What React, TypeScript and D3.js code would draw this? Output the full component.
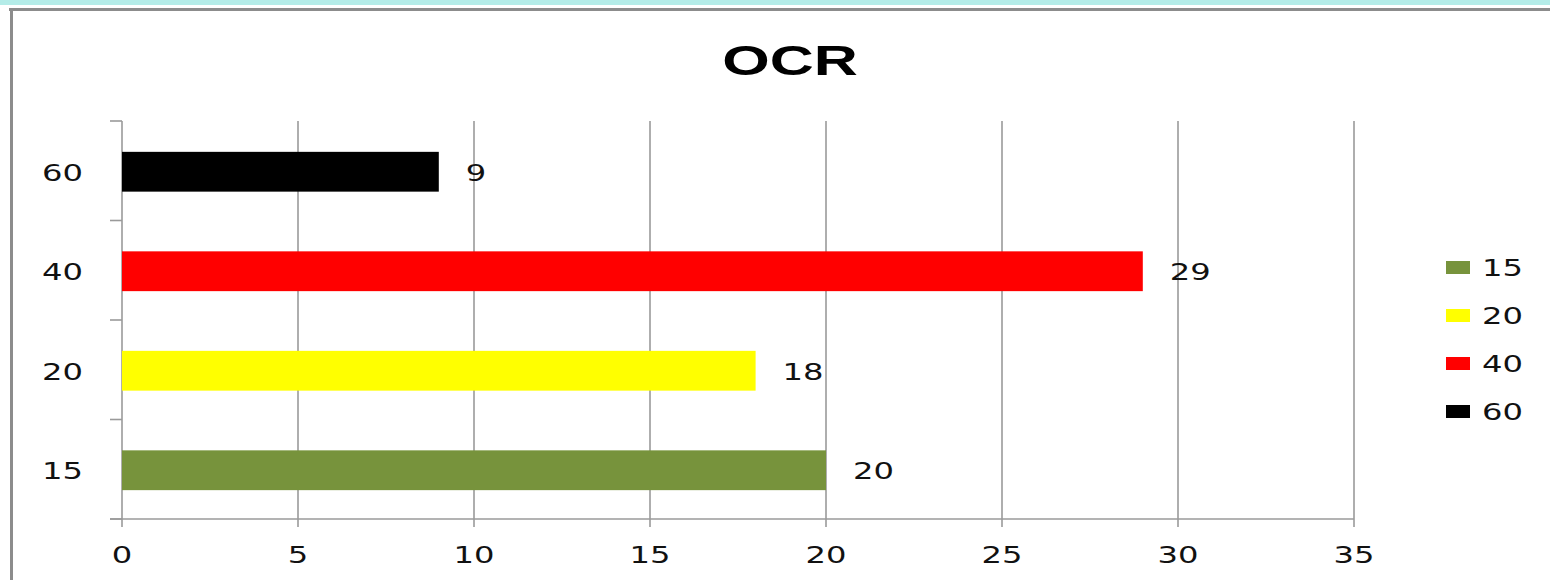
import React from "react";
import * as d3 from "d3";

const categories = ["15", "20", "40", "60"];
const values = [20, 18, 29, 9];
const colors = ["#77933c", "#ffff00", "#ff0000", "#000000"];
const xTicks = [0, 5, 10, 15, 20, 25, 30, 35];
const title = "OCR";

const W = 1550;
const H = 580;
const SX = 1.4; // horizontal stretch of text in the reference

export default function App() {
  const x = d3.scaleLinear().domain([0, 35]).range([122, 1354]);
  const y = d3
    .scaleBand<string>()
    .domain([...categories].reverse())
    .range([121, 519])
    .padding(0);
  const bw = y.bandwidth();
  const boundaries = d3.range(categories.length + 1).map((i) => 121 + i * bw);
  const font = "'DejaVu Sans', Verdana, sans-serif";

  const stretched = (
    key: string,
    tx: number,
    ty: number,
    text: string,
    anchor: string,
    size = 23,
    sx = SX
  ) => (
    <g key={key} transform={`translate(${tx},${ty}) scale(${sx},1)`}>
      <text
        x={0}
        y={0}
        textAnchor={anchor as any}
        dominantBaseline="central"
        fontFamily={font}
        fontSize={size}
        fill="#111"
      >
        {text}
      </text>
    </g>
  );

  return (
    <svg
      width={W}
      height={H}
      style={{ position: "absolute", left: 0, top: 0, background: "#fff" }}
    >
      <rect x={0} y={0} width={W} height={5} fill="#b4ece8" />
      <rect x={9} y={8} width={W - 9} height={3} fill="#8c8c8c" />
      <rect x={10} y={8} width={3} height={H - 8} fill="#8c8c8c" />

      {/* title */}
      <g transform={`translate(790,75) scale(1.42,1)`}>
        <text
          textAnchor="middle"
          fontFamily="'Liberation Sans', Arial, sans-serif"
          fontWeight="bold"
          fontSize={43}
          fill="#000"
        >
          {title}
        </text>
      </g>

      {/* vertical gridlines */}
      {xTicks.map((t) => (
        <line
          key={"g" + t}
          x1={x(t)}
          x2={x(t)}
          y1={121}
          y2={527}
          stroke="#9a9a9a"
          strokeWidth={1.6}
        />
      ))}
      {/* x axis line */}
      <line x1={110} x2={x(35)} y1={519} y2={519} stroke="#9a9a9a" strokeWidth={1.6} />
      {/* category ticks */}
      {boundaries.map((b, i) => (
        <line key={"ct" + i} x1={110} x2={122} y1={b} y2={b} stroke="#9a9a9a" strokeWidth={1.6} />
      ))}

      {/* bars */}
      {categories.map((c, i) => (
        <rect
          key={"b" + c}
          x={x(0)}
          y={(y(c) as number) + bw * 0.31}
          width={x(values[i]) - x(0)}
          height={bw * 0.4}
          fill={colors[i]}
        />
      ))}

      {/* value labels */}
      {categories.map((c, i) =>
        stretched("v" + c, x(values[i]) + 27, (y(c) as number) + bw * 0.52, String(values[i]), "start")
      )}

      {/* y labels */}
      {categories.map((c) =>
        stretched("y" + c, 83, (y(c) as number) + bw * 0.52, c, "end")
      )}

      {/* x tick labels */}
      {xTicks.map((t) => stretched("x" + t, x(t), 555, String(t), "middle"))}

      {/* legend */}
      {categories.map((c, i) => (
        <g key={"l" + c}>
          <rect x={1446} y={261 + i * 48} width={24} height={13} fill={colors[i]} />
          {stretched("lt" + c, 1482, 268 + i * 48, c, "start")}
        </g>
      ))}
    </svg>
  );
}
